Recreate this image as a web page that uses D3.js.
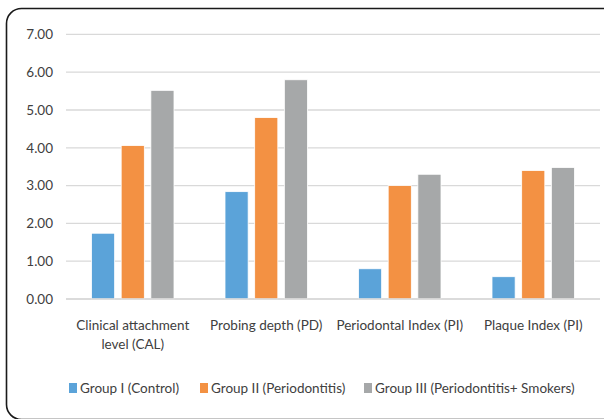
<!DOCTYPE html>
<html>
<head>
<meta charset="utf-8">
<script src="https://cdn.jsdelivr.net/npm/d3@7"></script>
<style>
  html, body { margin: 0; padding: 0; background: #ffffff; }
  svg { display: block; }
  text { font-family: Lato, "Noto Sans", sans-serif; fill: #404040; }
</style>
</head>
<body>
<svg id="chart" width="604" height="419"></svg>
<script>
// Periodontal parameters by study group
const categories = [
  ["Clinical attachment", "level (CAL)"],
  ["Probing depth (PD)"],
  ["Periodontal Index (PI)"],
  ["Plaque Index (PI)"]
];
const seriesNames = [
  "Group I (Control)",
  "Group II (Periodontitis)",
  "Group III (Periodontitis+ Smokers)"
];
const groupI   = [1.74, 2.84, 0.80, 0.59];
const groupII  = [4.06, 4.80, 3.00, 3.40];
const groupIII = [5.52, 5.80, 3.30, 3.48];
const yTicks = [0, 1, 2, 3, 4, 5, 6, 7];
const colors = ["#5ba3d9", "#f39143", "#a6a8a9"];

const series = [groupI, groupII, groupIII];

const svg = d3.select("#chart");

// rounded frame around the chart
svg.append("rect")
  .attr("x", 6.5).attr("y", 8.5)
  .attr("width", 612).attr("height", 411)
  .attr("rx", 15).attr("ry", 15)
  .attr("fill", "none")
  .attr("stroke", "#1a1a1a")
  .attr("stroke-width", 1.6);

const plot = { left: 66, right: 600, top: 34, bottom: 299 };

const x0 = d3.scaleBand()
  .domain(d3.range(categories.length))
  .range([plot.left, plot.right])
  .paddingInner(0)
  .paddingOuter(0);

const x1 = d3.scaleBand()
  .domain(d3.range(series.length))
  .range([25.5, x0.bandwidth() - 25.5])
  .paddingInner(0.22)
  .paddingOuter(0);

const y = d3.scaleLinear()
  .domain([0, 7])
  .range([plot.bottom, plot.bottom - 7 * 37.8]);

// horizontal gridlines
svg.append("g")
  .selectAll("line")
  .data(yTicks)
  .join("line")
  .attr("x1", plot.left).attr("x2", plot.right)
  .attr("y1", d => y(d)).attr("y2", d => y(d))
  .attr("stroke", "#d9d9d9")
  .attr("stroke-width", 1.3);

// y-axis labels
const yAxis = d3.axisLeft(y)
  .tickValues(yTicks)
  .tickFormat(d3.format(".2f"))
  .tickSize(0)
  .tickPadding(0);
const yg = svg.append("g")
  .attr("transform", `translate(${plot.left - 13},0)`)
  .call(yAxis);
yg.select(".domain").remove();
yg.selectAll("text")
  .attr("font-size", 13.5)
  .attr("font-family", "Lato, 'Noto Sans', sans-serif")
  .attr("fill", "#404040");

// bars
const groups = svg.append("g")
  .selectAll("g")
  .data(categories.map((c, i) => i))
  .join("g")
  .attr("transform", i => `translate(${x0(i)},0)`);

groups.selectAll("rect")
  .data(i => series.map((s, k) => ({ k, v: s[i] })))
  .join("rect")
  .attr("x", d => x1(d.k))
  .attr("width", x1.bandwidth())
  .attr("y", d => y(d.v))
  .attr("height", d => y(0) - y(d.v))
  .attr("fill", d => colors[d.k])
  .attr("stroke", "#ffffff")
  .attr("stroke-width", 0.8);

// baseline
svg.append("line")
  .attr("x1", plot.left).attr("x2", plot.right)
  .attr("y1", y(0)).attr("y2", y(0))
  .attr("stroke", "#d9d9d9")
  .attr("stroke-width", 1.3);

// category labels
const xl = svg.append("g")
  .selectAll("text")
  .data(categories)
  .join("text")
  .attr("x", (d, i) => x0(i) + x0.bandwidth() / 2)
  .attr("y", 330)
  .attr("text-anchor", "middle")
  .attr("font-size", 13.5);
xl.selectAll("tspan")
  .data(d => d)
  .join("tspan")
  .attr("x", function () { return d3.select(this.parentNode).attr("x"); })
  .attr("dy", (d, j) => j === 0 ? 0 : 19)
  .text(d => d);

// legend
const legendX = [69, 200, 364];
const legend = svg.append("g")
  .selectAll("g")
  .data(seriesNames)
  .join("g")
  .attr("transform", (d, i) => `translate(${legendX[i]},388)`);
legend.append("rect")
  .attr("x", 0).attr("y", -5)
  .attr("width", 8).attr("height", 10)
  .attr("fill", (d, i) => colors[i]);
legend.append("text")
  .attr("x", 11).attr("y", 5)
  .attr("font-size", 13.5)
  .text(d => d);
</script>
</body>
</html>
